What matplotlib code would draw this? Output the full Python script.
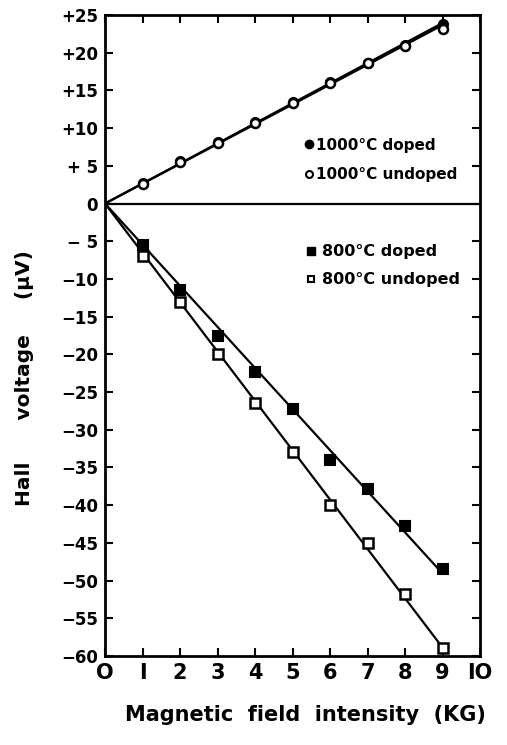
import numpy as np
import matplotlib
matplotlib.use("Agg")
import matplotlib.pyplot as plt
from matplotlib.lines import Line2D

field = [1, 2, 3, 4, 5, 6, 7, 8, 9]
v1000_doped = [2.7, 5.6, 8.1, 10.8, 13.4, 16.1, 18.7, 21.0, 23.8]
v1000_undoped = [2.6, 5.5, 8.0, 10.7, 13.3, 16.0, 18.6, 20.9, 23.2]
v800_doped = [-5.5, -11.5, -17.5, -22.3, -27.3, -34.0, -37.8, -42.7, -48.5]
v800_undoped = [-7.0, -13.0, -20.0, -26.5, -33.0, -40.0, -45.0, -51.8, -59.0]

xticks = list(range(0, 11))
xticklabels = ["O", "I", "2", "3", "4", "5", "6", "7", "8", "9", "IO"]
yticks = list(range(25, -61, -5))
yticklabels = ["+25", "+20", "+15", "+10", "+ 5", "0", "\u2212 5", "\u221210", "\u221215",
               "\u221220", "\u221225", "\u221230", "\u221235", "\u221240", "\u221245",
               "\u221250", "\u221255", "\u221260"]

plt.rcParams['font.family'] = ['DejaVu Sans']
fig = plt.figure(figsize=(5.07, 7.45), dpi=100)
ax = fig.add_axes([105/507, 1-656/745, 375/507, 641/745])

def fit_line(x, y):
    x = np.asarray(x, float); y = np.asarray(y, float)
    k = (x*y).sum() / (x*x).sum()
    xs = np.array([0, x.max()])
    return xs, k*xs

for y in (v1000_doped, v1000_undoped, v800_doped, v800_undoped):
    xs, ys = fit_line(field, y)
    ax.plot(xs, ys, color='black', lw=1.6, zorder=2)

ax.axhline(0, color='black', lw=1.6, zorder=2)

ms = 6.5
ax.plot(field, v1000_doped, 'o', ms=ms, mfc='black', mec='black', mew=1.5, zorder=3)
ax.plot(field, v1000_undoped, 'o', ms=ms, mfc='white', mec='black', mew=1.8, zorder=4)
ax.plot(field, v800_doped, 's', ms=ms, mfc='black', mec='black', mew=1.5, zorder=3)
ax.plot(field, v800_undoped, 's', ms=ms, mfc='white', mec='black', mew=1.8, zorder=4)

ax.set_xlim(0, 10)
ax.set_ylim(-60, 25)
ax.set_xticks(xticks)
ax.set_xticklabels(xticklabels, fontsize=15, fontweight='bold')
ax.set_yticks(yticks)
ax.set_yticklabels(yticklabels, fontsize=12, fontweight='bold')
ax.tick_params(axis='both', direction='in', length=6, width=1.5,
               top=True, right=True, pad=5)
ax.tick_params(axis='x', pad=5)
for s in ax.spines.values():
    s.set_linewidth(2)

h1 = [Line2D([], [], ls='none', marker='o', ms=6, mfc='black', mec='black'),
      Line2D([], [], ls='none', marker='o', ms=5, mfc='white', mec='black', mew=1.5)]
leg1 = ax.legend(h1, ["1000°C doped", "1000°C undoped"], loc='upper left',
                 bbox_to_anchor=(0.515, 0.818), frameon=False, handlelength=0.6,
                 handletextpad=0.15, labelspacing=0.95, borderaxespad=0,
                 prop={'size': 11, 'weight': 'bold'})
ax.add_artist(leg1)
h2 = [Line2D([], [], ls='none', marker='s', ms=6, mfc='black', mec='black'),
      Line2D([], [], ls='none', marker='s', ms=5, mfc='white', mec='black', mew=1.5)]
ax.legend(h2, ["800°C doped", "800°C undoped"], loc='upper left',
          bbox_to_anchor=(0.52, 0.652), frameon=False, handlelength=0.6,
          handletextpad=0.4, labelspacing=0.8, borderaxespad=0,
          prop={'size': 11.5, 'weight': 'bold'})

fig.text(25/507, 1-378/745, "Hall      voltage     (\u03bcV)", rotation=90,
         ha='center', va='center', fontsize=14.5, fontweight='semibold')
fig.text(305/507, 1-715/745, "Magnetic  field  intensity  (KG)",
         ha='center', va='center', fontsize=15, fontweight='bold')

fig.savefig("out.png", dpi=100)
